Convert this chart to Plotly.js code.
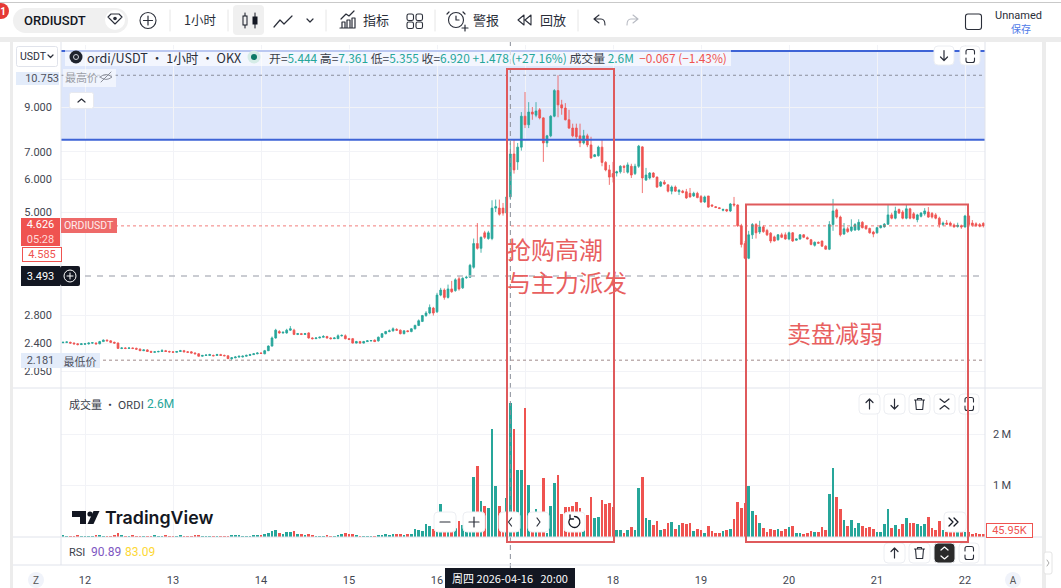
<!DOCTYPE html>
<html><head><meta charset="utf-8">
<script src="https://cdn.plot.ly/plotly-3.0.1.min.js"></script>
<style>html,body{margin:0;padding:0;background:#fff;overflow:hidden}#chart{position:absolute;left:0;top:0;width:1061px;height:588px}#over{position:absolute;left:0;top:0;pointer-events:none}</style>
</head><body><div id="chart"></div><svg id="over" width="1061" height="588" xmlns="http://www.w3.org/2000/svg"></svg>
<script>
const dayTicks=["12","13","14","15","16","","18","19","20","21","22"];
const priceTicks=[2.05,2.4,2.8,5,6,7,9];
const opens=[
2.405,2.41,2.41,2.40,2.39,2.38,2.385,2.39,2.40,2.40,2.39,2.42,
2.44,2.43,2.41,2.40,2.33,2.335,2.33,2.335,2.33,2.32,2.30,2.31,
2.29,2.28,2.285,2.29,2.30,2.29,2.285,2.28,2.29,2.30,2.285,2.285,
2.27,2.26,2.23,2.24,2.24,2.24,2.24,2.25,2.24,2.235,2.20,2.21,
2.22,2.22,2.23,2.24,2.25,2.26,2.27,2.26,2.30,2.36,2.47,2.56,
2.54,2.54,2.58,2.58,2.52,2.53,2.52,2.54,2.47,2.46,2.47,2.48,
2.49,2.47,2.46,2.46,2.50,2.50,2.46,2.46,2.40,2.42,2.40,2.42,
2.43,2.44,2.43,2.48,2.53,2.56,2.57,2.59,2.58,2.53,2.57,2.56,
2.60,2.65,2.71,2.80,2.84,2.92,2.86,3.14,3.23,3.10,3.25,3.22,
3.44,3.27,3.46,3.47,3.67,4.19,4.08,4.45,4.31,4.31,5.11,5.11,
5.11,4.97,5.444,6.92,6.62,7.19,8.55,8.15,8.75,8.60,8.86,8.47,
7.36,7.66,8.55,9.87,9.11,8.95,8.38,8.00,8.00,7.66,7.36,7.66,
7.28,6.82,6.85,7.19,6.60,6.33,6.20,6.22,6.26,6.46,6.25,6.46,
6.20,6.46,7.20,5.98,6.05,6.22,6.08,5.78,5.91,5.82,5.62,5.75,
5.60,5.62,5.60,5.55,5.47,5.55,5.45,5.29,5.47,5.20,5.15,5.12,
5.05,5.07,5.03,5.23,5.20,4.63,4.19,3.86,4.40,4.66,4.47,4.60,
4.51,4.44,4.35,4.28,4.40,4.40,4.30,4.45,4.27,4.30,4.40,4.33,
4.28,4.15,4.22,4.25,4.13,4.06,4.66,5.06,4.86,4.42,4.55,4.51,
4.52,4.53,4.72,4.62,4.56,4.47,4.45,4.58,4.60,4.67,4.92,4.83,
5.07,5.00,4.83,5.09,4.95,4.79,4.88,4.95,5.00,4.96,4.92,4.83,
4.66,4.70,4.70,4.65,4.61,4.63,4.60,4.89,4.70,4.68,4.66,4.693];
const closes=[
2.41,2.415,2.40,2.39,2.38,2.39,2.39,2.40,2.405,2.39,2.42,2.44,
2.43,2.41,2.40,2.33,2.335,2.33,2.335,2.33,2.32,2.30,2.31,2.29,
2.28,2.285,2.29,2.30,2.29,2.285,2.28,2.29,2.30,2.285,2.28,2.27,
2.26,2.23,2.24,2.245,2.25,2.235,2.25,2.24,2.235,2.20,2.21,2.22,
2.23,2.23,2.24,2.25,2.26,2.27,2.265,2.30,2.36,2.47,2.58,2.54,
2.55,2.58,2.60,2.52,2.53,2.52,2.53,2.47,2.46,2.47,2.48,2.49,
2.47,2.46,2.47,2.50,2.505,2.46,2.45,2.40,2.42,2.40,2.42,2.43,
2.435,2.42,2.48,2.53,2.56,2.57,2.60,2.58,2.53,2.57,2.56,2.60,
2.65,2.72,2.80,2.84,2.93,2.84,3.14,3.23,3.10,3.25,3.20,3.42,
3.25,3.45,3.47,3.71,4.19,4.08,4.34,4.34,4.45,5.11,5.15,4.94,
4.97,5.44,6.92,6.33,7.19,8.55,8.15,8.75,8.65,8.80,8.47,7.36,
7.66,8.55,9.87,9.11,8.95,8.38,8.00,7.66,7.62,7.36,7.66,7.28,
6.77,6.89,7.19,6.60,6.33,6.08,6.08,6.26,6.46,6.42,6.51,6.15,
6.46,7.23,6.05,6.15,6.22,6.08,5.75,5.91,5.85,5.62,5.75,5.62,
5.65,5.58,5.41,5.44,5.55,5.42,5.29,5.44,5.14,5.17,5.13,5.10,
5.07,5.03,5.23,5.20,4.63,4.17,3.86,4.40,4.66,4.45,4.60,4.48,
4.40,4.25,4.25,4.40,4.34,4.30,4.45,4.25,4.30,4.40,4.34,4.30,
4.17,4.22,4.20,4.13,4.06,4.66,5.03,4.86,4.40,4.55,4.48,4.60,
4.66,4.72,4.58,4.55,4.45,4.42,4.58,4.63,4.67,4.92,4.83,5.03,
4.97,4.83,5.09,4.83,4.83,4.92,4.97,5.03,4.86,4.86,4.83,4.66,
4.70,4.67,4.65,4.60,4.64,4.60,4.89,4.66,4.64,4.63,4.62,4.626];
const highs=[
2.42,2.42,2.42,2.41,2.40,2.40,2.40,2.41,2.41,2.41,2.43,2.45,
2.45,2.44,2.42,2.41,2.345,2.345,2.345,2.34,2.34,2.33,2.315,2.32,
2.30,2.295,2.30,2.32,2.31,2.30,2.295,2.295,2.31,2.31,2.295,2.295,
2.28,2.27,2.245,2.25,2.26,2.25,2.26,2.26,2.25,2.24,2.22,2.23,
2.235,2.24,2.25,2.26,2.27,2.28,2.28,2.31,2.37,2.49,2.60,2.58,
2.56,2.60,2.64,2.60,2.54,2.54,2.54,2.55,2.48,2.48,2.49,2.51,
2.50,2.48,2.48,2.52,2.52,2.52,2.47,2.47,2.43,2.43,2.43,2.44,
2.44,2.45,2.49,2.54,2.57,2.59,2.62,2.61,2.59,2.58,2.58,2.61,
2.66,2.74,2.81,2.87,2.98,2.94,3.18,3.27,3.26,3.33,3.40,3.45,
3.49,3.47,3.50,3.74,4.31,4.70,4.36,4.50,4.50,5.34,5.36,5.36,
5.26,5.48,7.361,7.49,7.36,8.75,9.79,9.25,9.00,9.25,8.95,8.50,
7.70,8.60,9.95,10.753,9.37,9.20,8.86,8.20,8.20,8.20,7.92,7.75,
7.62,6.92,7.25,7.49,6.65,6.51,6.62,6.30,6.50,6.51,6.60,6.55,
6.55,7.28,7.23,6.40,6.25,6.25,6.10,5.95,5.98,5.85,5.80,5.80,
5.68,5.66,5.69,5.72,5.60,5.60,5.50,5.48,5.47,5.22,5.17,5.14,
5.10,5.09,5.26,5.44,5.22,4.68,4.25,4.50,4.70,4.70,4.76,4.64,
4.55,4.47,4.38,4.42,4.45,4.46,4.48,4.47,4.31,4.42,4.42,4.36,
4.30,4.24,4.24,4.26,4.15,4.75,5.38,5.10,4.90,4.70,4.60,4.80,
4.70,4.80,4.75,4.65,4.58,4.50,4.60,4.65,4.70,5.23,4.98,5.15,
5.10,5.05,5.20,5.12,5.00,4.95,5.00,5.11,5.14,5.00,4.97,4.87,
4.74,4.78,4.74,4.69,4.71,4.66,4.92,4.92,4.78,4.72,4.70,4.72];
const lows=[
2.40,2.40,2.39,2.38,2.37,2.375,2.38,2.38,2.39,2.38,2.385,2.415,
2.425,2.40,2.39,2.325,2.32,2.32,2.325,2.32,2.31,2.295,2.295,2.285,
2.275,2.275,2.28,2.285,2.285,2.275,2.275,2.275,2.285,2.28,2.27,2.265,
2.255,2.225,2.225,2.235,2.235,2.23,2.235,2.235,2.23,2.195,2.181,2.205,
2.21,2.215,2.225,2.235,2.245,2.255,2.26,2.255,2.295,2.355,2.46,2.53,
2.53,2.53,2.57,2.51,2.51,2.51,2.515,2.46,2.45,2.455,2.465,2.475,
2.46,2.45,2.455,2.455,2.49,2.45,2.44,2.395,2.395,2.39,2.395,2.415,
2.42,2.415,2.42,2.47,2.52,2.55,2.56,2.57,2.52,2.52,2.55,2.55,
2.59,2.64,2.70,2.78,2.82,2.80,2.84,3.12,3.06,3.08,3.18,3.20,
3.22,3.25,3.44,3.46,3.64,4.05,3.98,4.30,4.28,4.27,5.00,4.90,
4.90,4.90,5.355,6.20,6.33,7.05,8.00,8.00,8.38,8.50,8.40,6.62,
7.19,7.60,8.50,8.50,8.62,8.35,7.96,7.60,7.50,7.19,7.30,7.19,
6.73,6.80,6.82,6.46,6.28,5.82,5.90,6.10,6.20,6.22,6.20,6.05,
6.15,6.40,5.56,5.95,6.00,6.05,5.72,5.75,5.82,5.58,5.52,5.60,
5.50,5.55,5.38,5.42,5.44,5.40,5.26,5.26,5.12,5.14,5.11,5.08,
5.02,5.00,5.00,5.15,4.60,4.10,3.84,3.84,4.30,4.31,4.42,4.45,
4.37,4.20,4.24,4.26,4.32,4.28,4.27,4.23,4.26,4.28,4.32,4.29,
4.15,4.12,4.19,4.11,4.05,4.04,4.50,4.82,4.36,4.40,4.45,4.47,
4.50,4.50,4.56,4.53,4.43,4.34,4.43,4.56,4.58,4.65,4.80,4.80,
4.95,4.80,4.80,4.80,4.80,4.72,4.85,4.90,4.84,4.82,4.80,4.58,
4.62,4.65,4.62,4.58,4.58,4.55,4.58,4.63,4.60,4.60,4.59,4.585];
const volumesK=[
22,18,20,15,25,18,12,20,15,22,28,18,
18,15,22,80,30,18,15,22,14,18,20,12,
16,22,15,12,30,18,14,20,25,16,12,18,
35,22,15,12,14,20,16,12,20,18,28,40,
25,20,15,18,22,30,25,55,80,110,135,70,
60,85,95,115,60,45,35,50,25,20,18,15,
22,18,20,28,60,70,60,55,30,18,15,20,
12,15,25,40,45,30,55,50,60,33,46,52,
150,131,111,242,209,150,100,634,131,131,100,164,
314,229,131,100,1165,1392,700,602,569,2113,1000,602,
262,765,2616,2119,1308,1308,2531,1020,360,543,262,1145,
65,602,1053,1200,438,575,575,595,687,569,131,425,
772,360,380,719,634,667,575,131,131,78,131,183,
131,962,1165,360,327,229,307,131,144,262,294,150,
229,275,248,262,100,144,131,78,209,111,65,78,
100,131,144,340,687,569,654,1000,510,418,275,163,
98,150,131,150,118,150,183,209,65,65,46,65,
118,98,85,183,131,837,1340,772,543,327,209,327,
163,262,209,163,183,144,98,98,242,543,163,229,
150,242,360,262,275,242,209,242,380,177,131,314,
131,98,85,85,85,85,98,85,52,78,52,46];

const UP='#26a69a',DN='#ef5350';
const FONT='Roboto, "Noto Sans CJK SC", sans-serif';
const CJK='"Noto Sans CJK SC", Roboto, sans-serif';
const L=61,R=985,T=45,B=565,W=R-L,H=B-T;
const HOUR=3600e3, T0=Date.UTC(2026,3,11,18);
const iso=h=>new Date(T0+h*HOUR).toISOString().slice(0,19).replace('T',' ');
const times=opens.map((_,i)=>iso(i));
const fx=x=>(x-L)/W, fy=y=>(B-y)/H;
const domMain=[fy(388),1], domVol=[fy(537),fy(389)];

const traces=[
 {type:'candlestick',x:times,open:opens,high:highs,low:lows,close:closes,xaxis:'x',yaxis:'y',hoverinfo:'skip',
  increasing:{line:{color:UP,width:0.8},fillcolor:UP},decreasing:{line:{color:DN,width:0.8},fillcolor:DN},whiskerwidth:0},
 {type:'bar',x:times,y:volumesK,xaxis:'x',yaxis:'y2',hoverinfo:'skip',width:HOUR*0.72,
  marker:{color:closes.map((c,i)=>c>=opens[i]?UP:DN),line:{width:0}}}
];

const line=(x0,y0,x1,y1,color,width,dash,extra)=>Object.assign({type:'line',xref:'paper',yref:'paper',x0:fx(x0),y0:fy(y0),x1:fx(x1),y1:fy(y1),line:{color,width,dash:dash||'solid'},layer:'above'},extra||{});
const hline=(p,color,width,dash)=>({type:'line',xref:'paper',yref:'y',x0:0,x1:1,y0:p,y1:p,line:{color,width,dash},layer:'above'});
const rect=(x0,y0,x1,y1,fill,border,layer)=>({type:'rect',xref:'paper',yref:'paper',x0:fx(x0),y0:fy(y0),x1:fx(x1),y1:fy(y1),fillcolor:fill,line:{color:border||'rgba(0,0,0,0)',width:border?1:0},layer:layer||'above'});

const shapes=[
 {type:'rect',xref:'paper',yref:'y',x0:0,x1:1,y0:7.49,y1:12.31,fillcolor:'#dde6fb',line:{width:0},layer:'below'},
 hline(7.49,'#3d63d6',2,'solid'),hline(12.31,'#3d63d6',2,'solid'),
 hline(10.753,'#8a8f9c',1,'dot'),hline(2.181,'#a08a8a',1,'dot'),hline(4.626,'rgba(239,83,80,0.75)',1,'dot'),
 hline(3.493,'#b9bcc4',1.5,'6px,6px'),
 {type:'line',xref:'x',yref:'paper',x0:iso(122),x1:iso(122),y0:fy(568),y1:fy(42),line:{color:'#8a8e99',width:1,dash:'5px,4px'},layer:'above'},
 // panel separators
 line(L,42,L,565,'#e0e3eb',1),line(R,42,R,565,'#e0e3eb',1),
 line(13,388,1042,388,'#e0e3eb',1),line(13,537,1042,537,'#e0e3eb',1),line(13,565,1042,565,'#e0e3eb',1),
 // window chrome
 rect(0,0,1061,3,'#ffffff'),rect(0,2,1061,3,'#c9c9c9'),rect(0,37,1061,42,'#ececec'),
 rect(0,42,11,588,'#ffffff'),rect(10,37,13,588,'#ececec'),rect(1042,37,1046,588,'#ececec'),
 // legend wash and high-price label wash
 rect(65,49,731,66,'rgba(255,255,255,0.65)'),rect(63,69,116,87,'rgba(255,255,255,0.55)')
];

const lab=(x,y,text,o)=>{o=o||{};return Object.assign({xref:'paper',yref:'paper',x:fx(x),y:fy(y),text,showarrow:false,xanchor:o.anchor||'left',yanchor:o.yanchor||'middle',align:o.align||'left',
 font:{family:o.family||FONT,size:o.size||11,color:o.color||'#131722'},borderpad:0,borderwidth:o.border?1:0,bordercolor:o.border||'rgba(0,0,0,0)'},
 o.bg?{bgcolor:o.bg}:{},o.w?{width:o.w}:{},o.h?{height:o.h}:{});};
const col=(c,t)=>`<span style="color:${c}">${t}</span>`;
const annotations=[
 lab(87,57,'ordi/USDT · 1小时 · OKX',{size:12.6,family:CJK,color:'#2a2e39'}),
 lab(269,57,`开=${col(UP,'5.444')} 高=${col(UP,'7.361')} 低=${col(UP,'5.355')} 收=${col(UP,'6.920')} ${col(UP,'+1.478 (+27.16%)')} 成交量 ${col(UP,'2.6M')}  ${col(DN,'−0.067 (−1.43%)')}`,{size:11.9,family:CJK,color:'#3a3e4a'}),
 lab(16,78,'10.753',{w:43,h:13,bg:'#e3ecfa',color:'#50535e',anchor:'left',align:'right'}),
 lab(65,77,'最高价',{size:11,family:CJK,color:'#9a9da6'}),
 lab(21,232,'4.626<br>'+col('#ffd9d8','05:28'),{w:39,h:28,bg:DN,color:'#ffffff',align:'center',size:11}),
 lab(61,225.5,'ORDIUSDT',{w:56,h:15,bg:'#ee6a69',color:'#ffecec',align:'center',size:10.5}),
 lab(21.5,254,'4.585',{w:38,h:13,bg:'#ffffff',border:DN,color:DN,align:'center'}),
 lab(21,276,'3.493',{w:39,h:20,bg:'#131722',color:'#ffffff',align:'center'}),
 lab(21,360,'2.181',{w:39,h:15,bg:'#e3ecfa',color:'#50535e',align:'center'}),
 lab(60,360,'最低价',{w:40,h:15,bg:'#e3ecfa',color:'#50535e',align:'center',family:CJK,size:11}),
 lab(69,404,'成交量 · ORDI',{family:CJK,size:11,color:'#3a3e4a'}),
 lab(147,404,'2.6M',{size:12,color:UP}),
 lab(69,552,'RSI',{size:11,color:'#3a3e4a'}),
 lab(91,552,'90.89',{size:12,color:'#7e57c2'}),
 lab(125,552,'83.09',{size:12,color:'#fdd835'}),
 lab(985.5,530,'45.95K',{w:45,h:13,bg:'#ffffff',border:DN,color:DN,align:'center'}),
 lab(445,578,'周四 2026-04-16&nbsp;&nbsp;&nbsp;20:00',{w:130,h:20,bg:'#131722',color:'#ffffff',family:CJK,size:11,align:'center'})
];

const layout={
 width:1061,height:588,margin:{l:L,r:1061-R,t:T,b:588-B},paper_bgcolor:'#fff',plot_bgcolor:'#fff',showlegend:false,bargap:0,
 font:{family:FONT,size:11,color:'#434651'},
 xaxis:{type:'date',range:[iso(-0.55),iso(251.45)],anchor:'free',position:0,tickmode:'array',
   tickvals:dayTicks.map((_,i)=>iso(6+24*i)),ticktext:dayTicks,ticks:'',ticklabelstandoff:7,tickangle:0,
   showgrid:true,gridcolor:'#f2f3f7',gridwidth:1,zeroline:false,showline:false,rangeslider:{visible:false},tickfont:{size:11,color:'#434651'}},
 yaxis:{type:'log',domain:domMain,range:[0.2710,1.1051],side:'left',anchor:'x',tickmode:'array',tickvals:priceTicks,ticktext:priceTicks.map(v=>v.toFixed(3)),ticks:'',ticklabelstandoff:8,
   showgrid:true,gridcolor:'#f2f3f7',zeroline:false,showline:false,tickfont:{size:11,color:'#434651'}},
 yaxis2:{domain:domVol,range:[-8,2894],side:'right',anchor:'x',tickmode:'array',tickvals:[1000,2000],ticktext:['1\u2009M','2\u2009M'],ticks:'',ticklabelstandoff:7,
   showgrid:true,gridcolor:'#f2f3f7',zeroline:false,showline:false,tickfont:{size:11,color:'#434651'}},
 shapes,annotations
};
Plotly.newPlot('chart',traces,layout,{displayModeBar:false,staticPlot:true});

// ---- interface chrome and hand-drawn markup over the chart ----
const txt=(x,y,s,o)=>{o=o||{};return `<text x="${x}" y="${y}" font-family='${o.f||CJK}' font-size="${o.s||12}" fill="${o.c||'#131722'}" font-weight="${o.w||400}" text-anchor="${o.a||'start'}">${s}</text>`;};
const stroke=(d,c,w)=>`<path d="${d}" fill="none" stroke="${c||'#2a2e39'}" stroke-width="${w||1.2}" stroke-linecap="round" stroke-linejoin="round"/>`;
const btn=(x,y,w,h,inner,fill)=>`<rect x="${x}" y="${y}" width="${w}" height="${h}" rx="4" fill="${fill||'#fff'}" stroke="#eceef2"/>`+inner;
let s='';
// toolbar
s+=`<circle cx="1" cy="11" r="8" fill="#e53935"/>`+txt(3,15,'1',{s:10,c:'#fff',w:700,a:'middle',f:FONT});
s+=`<rect x="13" y="8" width="115" height="25" rx="12.5" fill="#f0f0f0"/>`+txt(24,25,'ORDIUSDT',{s:13,c:'#131722',f:FONT,w:500});
s+=`<circle cx="115" cy="20" r="10" fill="#fff"/>`+stroke('M108 17l3-3h8l3 3-7 7z','#2a2e39',1.1)+`<circle cx="115" cy="18.5" r="1.8" fill="#2a2e39"/>`;
s+=`<circle cx="148" cy="20.5" r="8" fill="none" stroke="#2a2e39" stroke-width="1.1"/>`+stroke('M148 16v9M143.5 20.5h9');
s+=stroke('M170 10v21','#e6e6e6',1)+stroke('M228 10v21','#e6e6e6',1)+stroke('M326 10v21','#e6e6e6',1)+stroke('M435 10v21','#e6e6e6',1)+stroke('M578 10v21','#e6e6e6',1);
s+=txt(184,25,'1小时',{s:12.5,c:'#2a2e39'});
s+=`<rect x="233" y="5" width="31" height="30" rx="4" fill="#f0f0f0"/>`;
s+=stroke('M245 13v15M255 13v15','#131722',1)+`<rect x="243" y="16" width="4" height="9" fill="#f0f0f0" stroke="#131722"/><rect x="253" y="17" width="4" height="7" fill="#131722" stroke="#131722"/>`;
s+=stroke('M274 27l6-7 4 4 8-8')+stroke('M307 19l3 3 3-3');
s+=stroke('M340 28h15M342 28v-6h3v6M347 28v-8h3v8M352 28v-10h3v10M341 19l5-5 3 2 5-5');
s+=txt(363,25,'指标',{s:13,c:'#2a2e39'});
[[407,14],[416,14],[407,22],[416,22]].forEach(p=>{s+=`<rect x="${p[0]}" y="${p[1]}" width="6.5" height="6.5" rx="1.8" fill="none" stroke="#2a2e39" stroke-width="1.1"/>`;});
s+=`<circle cx="456" cy="20" r="7.5" fill="none" stroke="#2a2e39" stroke-width="1.1"/>`+stroke('M456 16v4h3M449 12l-2 2M463 12l2 2M462 28h6M465 25v6');
s+=txt(473,25,'警报',{s:13,c:'#2a2e39'});
s+=stroke('M524 15l-6 5 6 5zM531 15l-6 5 6 5z','#2a2e39',1.1);
s+=txt(540,25,'回放',{s:13,c:'#2a2e39'});
s+=stroke('M599 15l-5 4 5 4M594 19h7q4 0 4 6','#2a2e39',1.1)+stroke('M633 15l5 4-5 4M638 19h-7q-4 0-4 6','#b8bbc3',1.1);
s+=`<rect x="965.5" y="14" width="16" height="15.5" rx="2.5" fill="none" stroke="#2a2e39" stroke-width="1.1"/>`;
s+=txt(995,19,'Unnamed',{s:11,c:'#2a2e39',f:FONT})+txt(1011,33,'保存',{s:10,c:'#4f7be8'});
// price-axis widgets
s+=`<rect x="16.5" y="46.5" width="41" height="20" rx="2" fill="#fff" stroke="#e0e3eb"/>`+txt(20,60,'USDT',{s:10.5,f:FONT,c:'#2a2e39'})+stroke('M48 55l2.5 2.5 2.5-2.5');
s+=`<circle cx="254" cy="57" r="6.5" fill="#d5ece7"/><circle cx="254" cy="57" r="3" fill="#0a7a66"/>`;
s+=`<circle cx="76" cy="57" r="6.5" fill="#1e222d"/><circle cx="76" cy="57" r="2.5" fill="none" stroke="#d0d3da" stroke-width="1"/>`;
s+=stroke('M100 77q6-5 12 0q-6 5-12 0M101 82l10-10','#8a8e99',1);
s+=`<rect x="69.5" y="92.5" width="24" height="16" rx="2" fill="#fff" stroke="#e7e9ef"/>`+stroke('M78 102l3.5-3 3.5 3');
s+=`<rect x="60" y="266" width="20" height="20" rx="2" fill="#131722"/><circle cx="70" cy="276" r="6" fill="none" stroke="#fff"/>`+stroke('M70 273v6M67 276h6','#fff',1);
// corner circles
s+=`<circle cx="36" cy="580" r="8" fill="#f0f3fa"/>`+txt(36,584,'Z',{s:10,f:FONT,a:'middle',c:'#555'});
s+=`<circle cx="1013" cy="580" r="8" fill="#f0f3fa"/>`+txt(1013,584,'A',{s:10,f:FONT,a:'middle',c:'#555'});
s+=`<rect x="1044" y="552" width="8" height="22" rx="2" fill="#fff" stroke="#e4e4e4"/>`+stroke('M1047 560l2 3-2 3','#aaa',1);
// TradingView logo
s+=`<path d="M72 511h14v13h-6v-7h-8z" fill="#131722"/><circle cx="90" cy="514" r="2.6" fill="#131722"/><path d="M93.5 511h6l-6 13h-6z" fill="#131722"/>`;
s+=txt(105,524,'TradingView',{s:17.8,f:'Inter, Roboto, sans-serif',w:600,c:'#131722'});
// top-right scale buttons
const corners=(x,y)=>stroke(`M${x+6} ${y+8}v-2.5a2 2 0 0 1 2-2h4.500a2 2 0 0 1 2 2v2.500M${x+6} ${y+12}v2.500a2 2 0 0 0 2 2h4.500a2 2 0 0 0 2-2v-2.500`,'#2a2e39',1.1);
const arrow=(x,y,up)=>up?stroke(`M${x} ${y+5}v-10M${x-3.5} ${y-1.500}l3.500-3.500 3.500 3.500`):stroke(`M${x} ${y-5}v10M${x-3.5} ${y+1.500}l3.500 3.500 3.500-3.500`);
const trash=(x,y)=>stroke(`M${x-5} ${y-4}h10M${x-2} ${y-4}v-1.500h4v1.500M${x-4} ${y-4}l.8 9.500h6.400l.8-9.500`,'#2a2e39',1.1);
s+=btn(934,46,20,19,arrow(944,55.5,false));
s+=btn(960,46,20,19,corners(960,46));
// volume pane buttons
s+=btn(859,394,21,20,arrow(869.5,404,true))+btn(884,394,21,20,arrow(894.5,404,false))+btn(909,394,21,20,trash(919.5,404));
s+=btn(934,394,21,20,stroke('M940 399l4.500 3.500 4.500-3.500M940 409l4.500-3.500 4.500 3.500'))+btn(959,394,20,20,corners(959,394));
// RSI pane buttons
s+=btn(884,543,21,20,arrow(894.5,553,true))+btn(909,543,21,20,trash(919.5,553));
s+=btn(934,543,21,20,stroke('M941 550l3.500-3 3.500 3M941 556l3.500 3 3.500-3','#fff',1.2),'#2a2a2a')+btn(959,543,20,20,corners(959,543));
// navigation buttons
s+=btn(434,512,22,20,stroke('M440 522h10'))+btn(463,512,22,20,stroke('M469 522h10M474 517v10'));
s+=btn(499,512,21,20,stroke('M511.500 518l-3 4 3 4'))+btn(528,512,21,20,stroke('M537 518l3 4-3 4'));
s+=btn(564,512,21,20,stroke('M574.500 516.500a5.500 5.500 0 1 1-5 3M570 515v4h3.500','#131722',1.3));
s+=btn(944,512,22,20,stroke('M949 518l4 4-4 4M954 518l4 4-4 4','#131722',1.3));
// hand-drawn annotation boxes and notes
s+=`<rect x="507" y="69" width="107" height="473" fill="none" stroke="#df5a5c" stroke-width="2"/>`;
s+=`<rect x="746" y="204.500" width="222" height="337.500" fill="none" stroke="#df5a5c" stroke-width="2"/>`;
s+=txt(507,259,'抢购高潮',{s:24,c:'#e8605f'})+txt(507,292,'与主力派发',{s:24,c:'#e8605f'})+txt(787,343,'卖盘减弱',{s:24,c:'#e8605f'});
document.getElementById('over').innerHTML=s;
</script></body></html>
